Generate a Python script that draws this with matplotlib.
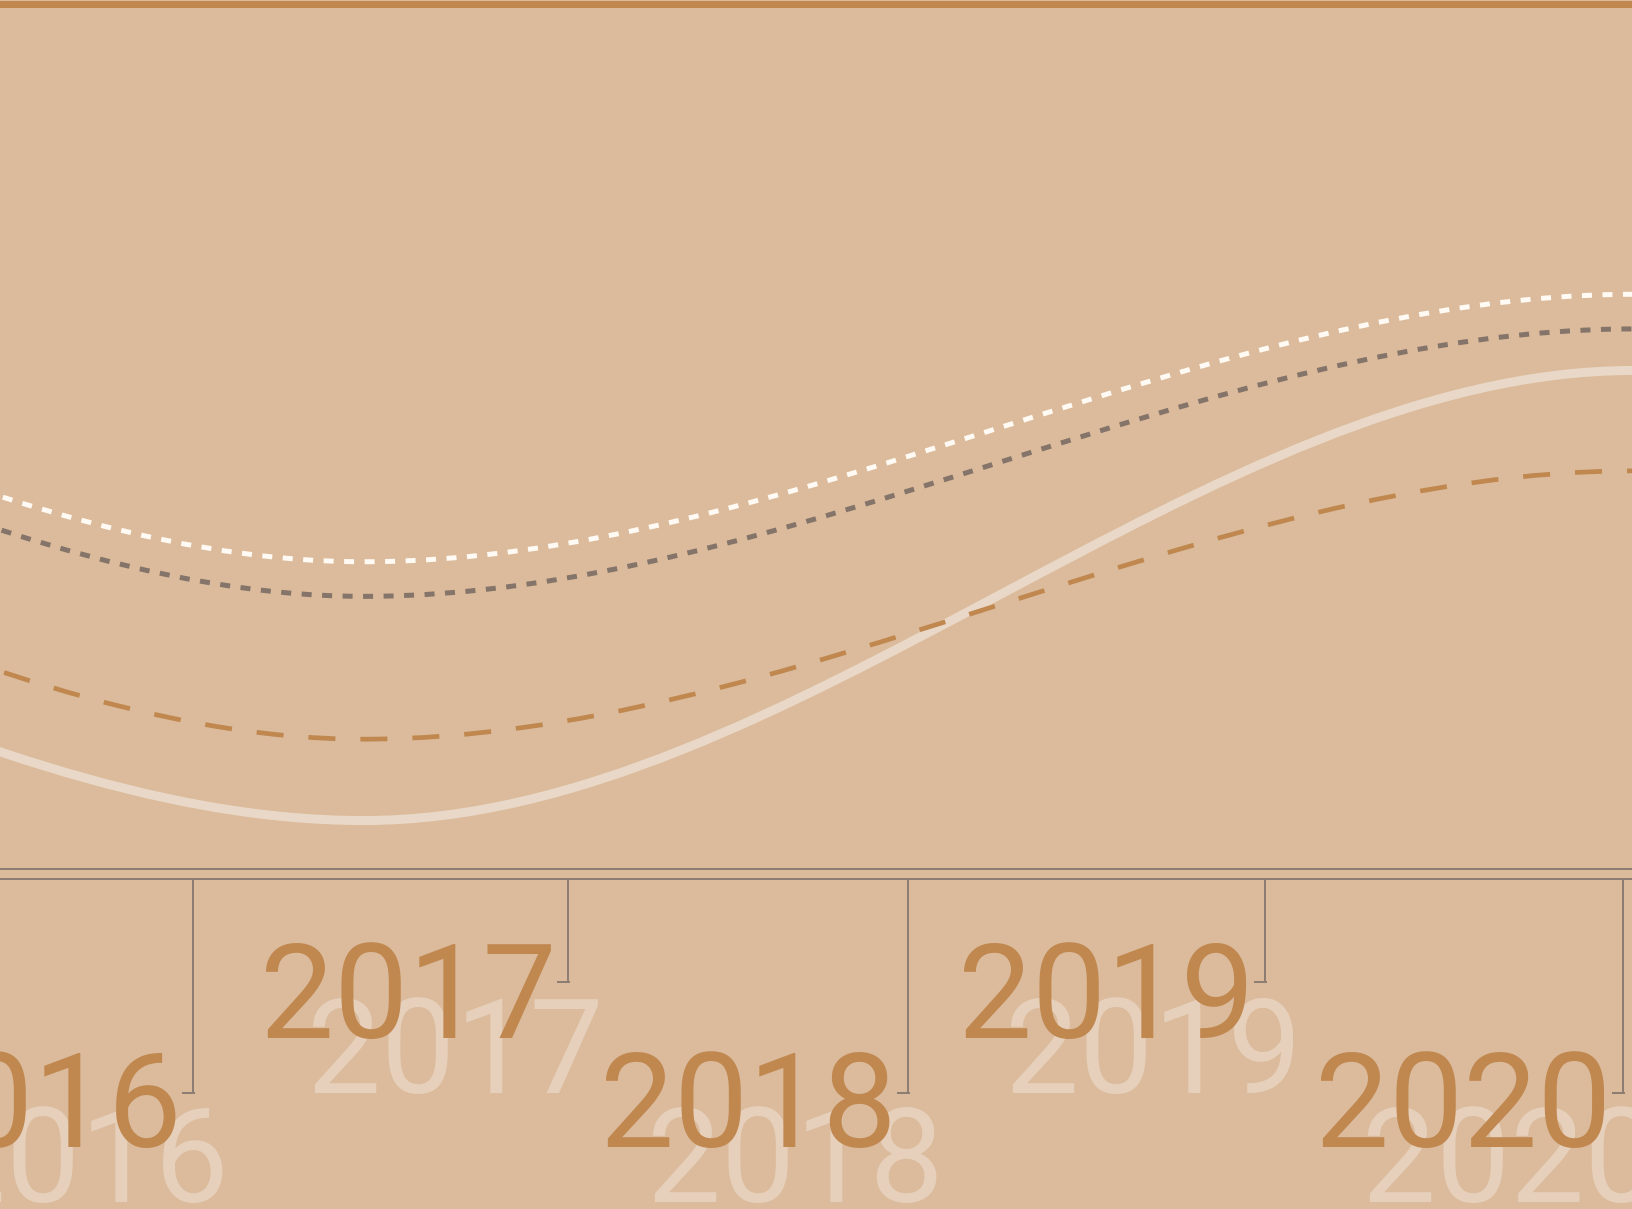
import numpy as np
import matplotlib
matplotlib.use("Agg")
import matplotlib.pyplot as plt
from matplotlib.path import Path
from matplotlib.patches import PathPatch
import matplotlib.transforms as mtrans

# ---------------- data ----------------
x_pts = [2009.3, 2012.9, 2016.46, 2020.03, 2023.6]
series_white = [60.0, 73.3, 35.5, 66.4, 55.0]
series_gray = [57.0, 70.0, 31.5, 62.4, 50.0]
series_solid = [35.0, 45.3, 5.6, 57.6, 45.0]
series_orange = [45.0, 54.3, 15.0, 46.0, 38.0]

tick_years = ["2016", "2017", "2018", "2019", "2020"]
tick_pos = [2015.980, 2017.035, 2017.990, 2018.995, 2020.0]
tick_row = [1, 0, 1, 0, 1]   # 0 = upper row, 1 = lower row

# ---------------- style ----------------
BG = "#DBBB9B"
ORANGE = "#C0874F"
AXIS = "#8E7D72"
WHITE = "#FFFAF3"
GRAY = "#857469"
SOLID = "#E9D8C7"
SHADOW = "#E6D0BB"

W, H, DPI = 1632, 1209, 100
plt.rcParams["lines.scale_dashes"] = False
plt.rcParams["font.family"] = ["Roboto", "DejaVu Sans"]

fig = plt.figure(figsize=(W / DPI, H / DPI), dpi=DPI, facecolor=BG)
ax_bottom_px = 869
ax_top_px = 3.5
ax = fig.add_axes([0, (H - ax_bottom_px) / H, 1, (ax_bottom_px - ax_top_px) / H])
ax.set_facecolor(BG)
ax.set_xlim(2015.438, 2020.026)
ax.set_ylim(0, 100)
for s in ("left", "right"):
    ax.spines[s].set_visible(False)
ax.spines["top"].set_color(ORANGE)
ax.spines["top"].set_linewidth(7 * 72 / DPI)
ax.spines["bottom"].set_color(AXIS)
ax.spines["bottom"].set_linewidth(2 * 72 / DPI)
ax.set_xticks([])
ax.set_yticks([])


def monotone_path(xs, ys):
    """Monotone cubic (d3 curveMonotoneX style) rendered as a Bezier path."""
    xs = np.asarray(xs, float)
    ys = np.asarray(ys, float)
    n = len(xs)
    h = np.diff(xs)
    s = np.diff(ys) / h
    t = np.zeros(n)
    for i in range(1, n - 1):
        p = (s[i - 1] * h[i] + s[i] * h[i - 1]) / (h[i - 1] + h[i])
        t[i] = (np.sign(s[i - 1]) + np.sign(s[i])) * min(abs(s[i - 1]), abs(s[i]), 0.5 * abs(p))
    t[0] = (3 * s[0] - t[1]) / 2
    t[-1] = (3 * s[-1] - t[-2]) / 2
    verts = [(xs[0], ys[0])]
    codes = [Path.MOVETO]
    for i in range(n - 1):
        d = h[i] / 3
        verts += [(xs[i] + d, ys[i] + t[i] * d),
                  (xs[i + 1] - d, ys[i + 1] - t[i + 1] * d),
                  (xs[i + 1], ys[i + 1])]
        codes += [Path.CURVE4] * 3
    return Path(verts, codes)


def draw(ys, color, lw_px, dashes=None, z=2, cap="butt"):
    lw = lw_px * 72 / DPI
    patch = PathPatch(monotone_path(x_pts, ys), facecolor="none", edgecolor=color,
                      linewidth=lw, zorder=z, capstyle=cap)
    if dashes is not None:
        patch.set_linestyle((0, tuple(d * 72 / DPI for d in dashes)))
    ax.add_patch(patch)


draw(series_solid, SOLID, 9, None, z=2, cap="round")
draw(series_orange, ORANGE, 4.7, (27, 25), z=3)
draw(series_gray, GRAY, 5, (10, 10.5), z=4)
draw(series_white, WHITE, 5, (10, 10.5), z=5)

# ---------------- custom x axis ----------------
tr = mtrans.blended_transform_factory(ax.transData, fig.dpi_scale_trans)


def ypx(p):
    return (H - p) / DPI


LW_AX = 2 * 72 / DPI
# second rule line
fig.add_artist(plt.Line2D([0, 1], [(H - 879) / H] * 2, transform=fig.transFigure,
                          color=AXIS, lw=LW_AX))

bracket_bottom = {0: 981.5, 1: 1093}
baseline = {0: 1037.7, 1: 1147}
fig.canvas.draw()
for lab, xp, row in zip(tick_years, tick_pos, tick_row):
    yb = bracket_bottom[row]
    ax.plot([xp, xp], [ypx(879), ypx(yb)], color=AXIS, lw=LW_AX, transform=tr,
            clip_on=False, solid_capstyle="butt")
    xpix = ax.transData.transform((xp, 0))[0]
    fig.add_artist(plt.Line2D([xpix - 10, xpix + 1], [H - yb, H - yb],
                              transform=mtrans.IdentityTransform(),
                              color=AXIS, lw=LW_AX))
    # shadow label
    sh = mtrans.offset_copy(tr, fig=fig, x=47 - 11, y=-55, units="dots")
    ax.text(xp, ypx(baseline[row]), lab, transform=sh, ha="right", va="baseline",
            fontsize=95, fontweight="normal", color=SHADOW, zorder=1, clip_on=False)
    mn = mtrans.offset_copy(tr, fig=fig, x=-11, y=0, units="dots")
    ax.text(xp, ypx(baseline[row]), lab, transform=mn, ha="right", va="baseline",
            fontsize=95, fontweight="normal", color=ORANGE, zorder=2, clip_on=False)

fig.savefig("out.png", dpi=DPI, facecolor=BG)
